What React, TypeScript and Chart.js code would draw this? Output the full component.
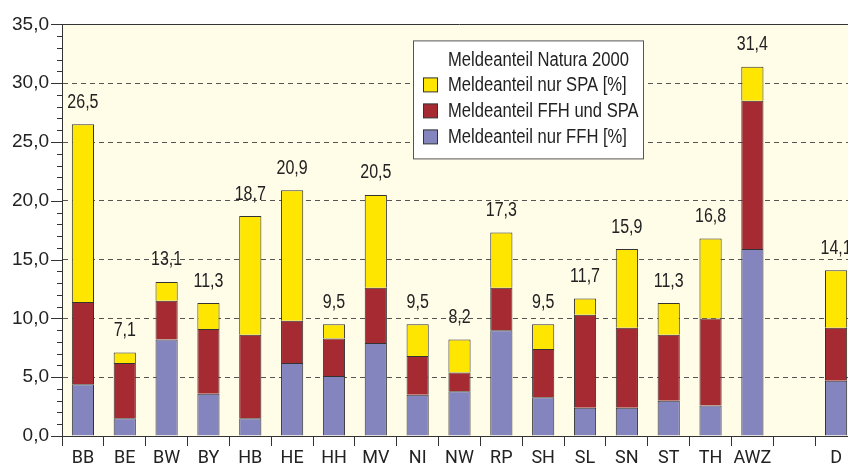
import React, { useEffect, useRef } from "react";
import { Chart, registerables } from "chart.js";

Chart.register(...registerables);

const categories = ["BB", "BE", "BW", "BY", "HB", "HE", "HH", "MV", "NI", "NW", "RP", "SH", "SL", "SN", "ST", "TH", "AWZ", "", "D"];
const nurFFH = [4.4, 1.5, 8.2, 3.6, 1.5, 6.2, 5.1, 7.9, 3.5, 3.8, 9.0, 3.3, 2.4, 2.4, 3.0, 2.6, 15.9, null, 4.7];
const ffhUndSPA = [7.0, 4.7, 3.3, 5.5, 7.1, 3.6, 3.2, 4.7, 3.3, 1.6, 3.6, 4.1, 7.9, 6.8, 5.6, 7.4, 12.6, null, 4.5];
const nurSPA = [15.1, 0.9, 1.6, 2.2, 10.1, 11.1, 1.2, 7.9, 2.7, 2.8, 4.7, 2.1, 1.4, 6.7, 2.7, 6.8, 2.9, null, 4.9];
const totals = ["26,5", "7,1", "13,1", "11,3", "18,7", "20,9", "9,5", "20,5", "9,5", "8,2", "17,3", "9,5", "11,7", "15,9", "11,3", "16,8", "31,4", "", "14,1"];
const legendTitle = "Meldeanteil Natura 2000";
const yTicksMajor = 5;

const SANS = '"Liberation Sans", Arial, sans-serif';
const BG = "#FFFCE8";
const LINE = "#333333";
const TEXT = "#222222";

function narrowText(ctx: any, text: string, x: number, y: number, align: "left" | "center", sx: number) {
  ctx.save();
  ctx.translate(x, y);
  ctx.scale(sx, 1);
  ctx.textAlign = align;
  ctx.textBaseline = "middle";
  ctx.fillText(text, 0, 0);
  ctx.restore();
}

const bgPlugin = {
  id: "bgPlugin",
  beforeDraw(chart: any) {
    const { ctx, chartArea } = chart;
    ctx.save();
    ctx.fillStyle = BG;
    ctx.fillRect(chartArea.left, chartArea.top, chartArea.right - chartArea.left, chartArea.bottom - chartArea.top);
    ctx.restore();
  },
  afterDraw(chart: any) {
    const { ctx, chartArea } = chart;
    const y = chart.scales.y;
    ctx.save();
    ctx.strokeStyle = LINE;
    ctx.lineWidth = 1;
    ctx.beginPath();
    ctx.moveTo(chartArea.left, Math.round(chartArea.top) + 0.5);
    ctx.lineTo(chartArea.right, Math.round(chartArea.top) + 0.5);
    ctx.stroke();
    for (let v = y.min; v <= y.max; v += 1) {
      const py = Math.round(y.getPixelForValue(v)) + 0.5;
      const len = v % yTicksMajor === 0 ? 11 : 5;
      ctx.beginPath();
      ctx.moveTo(chartArea.left - len, py);
      ctx.lineTo(chartArea.left, py);
      ctx.stroke();
    }
    const topMeta = chart.getDatasetMeta(2);
    ctx.fillStyle = TEXT;
    ctx.font = "20px " + SANS;
    topMeta.data.forEach((el: any, i: number) => {
      if (!totals[i]) return;
      narrowText(ctx, totals[i], el.x, el.y - 22, "center", 0.8);
    });
    const lx = chartArea.left + 351;
    const ly = chartArea.top + 16;
    const lw = 230;
    const lh = 118;
    ctx.fillStyle = "#FFFFFF";
    ctx.fillRect(lx, ly, lw, lh);
    ctx.strokeStyle = "#555";
    ctx.strokeRect(lx + 0.5, ly + 0.5, lw, lh);
    ctx.fillStyle = TEXT;
    ctx.font = "20px " + SANS;
    narrowText(ctx, legendTitle, lx + 35, ly + 20, "left", 0.83);
    const order = [2, 1, 0];
    order.forEach((di, k) => {
      const ds = chart.data.datasets[di];
      const cy = ly + 45 + k * 26;
      ctx.fillStyle = ds.backgroundColor;
      ctx.fillRect(lx + 10.5, cy - 7.5, 14, 14);
      ctx.strokeStyle = LINE;
      ctx.strokeRect(lx + 10.5, cy - 7.5, 14, 14);
      ctx.fillStyle = TEXT;
      narrowText(ctx, ds.label, lx + 35, cy, "left", 0.83);
    });
    ctx.restore();
  },
};

export default function App() {
  const ref = useRef<HTMLCanvasElement>(null);
  useEffect(() => {
    if (!ref.current) return;
    const chart = new Chart(ref.current, {
      type: "bar",
      data: {
        labels: categories,
        datasets: [
          { label: "Meldeanteil nur FFH [%]", data: nurFFH as any, backgroundColor: "#8484BE", borderColor: LINE, borderWidth: 1 },
          { label: "Meldeanteil FFH und SPA", data: ffhUndSPA as any, backgroundColor: "#A52A32", borderColor: LINE, borderWidth: 1 },
          { label: "Meldeanteil nur SPA [%]", data: nurSPA as any, backgroundColor: "#FFE600", borderColor: LINE, borderWidth: 1 },
        ],
      },
      options: {
        responsive: false,
        animation: false,
        layout: { padding: { top: 24, right: 1, left: 0, bottom: 0 } },
        plugins: { legend: { display: false }, tooltip: { enabled: false } },
        datasets: { bar: { categoryPercentage: 1, barPercentage: 0.53 } },
        scales: {
          x: {
            stacked: true,
            afterFit: (s: any) => { s.height = 30; },
            border: { color: LINE, width: 1 },
            grid: { drawOnChartArea: false, drawTicks: true, tickLength: 10, color: LINE, offset: true },
            ticks: { color: TEXT, font: { family: 'Roboto, "Liberation Sans", sans-serif', size: 18 }, padding: 2, maxRotation: 0, autoSkip: false },
          },
          y: {
            stacked: true,
            min: 0,
            max: 35,
            afterFit: (s: any) => { s.width = 62; },
            border: { color: LINE, width: 1, dash: [5, 4] },
            grid: {
              drawTicks: false,
              color: (c: any) => (c.tick && c.tick.value % yTicksMajor === 0 && c.tick.value !== 0 && c.tick.value !== 35 ? "#555" : "rgba(0,0,0,0)"),
            },
            ticks: {
              stepSize: 1,
              autoSkip: false,
              padding: 13,
              color: TEXT,
              font: { family: SANS, size: 19 },
              callback: (v: any) => (v % yTicksMajor === 0 ? Number(v).toFixed(1).replace(".", ",") : ""),
            },
          },
        },
      },
      plugins: [bgPlugin],
    });
    return () => chart.destroy();
  }, []);
  return (
    <div style={{ position: "absolute", left: 0, top: 0, width: 848, height: 466, overflow: "hidden", background: "#fff" }}>
      <canvas ref={ref} width={858} height={466} style={{ display: "block" }} />
    </div>
  );
}
